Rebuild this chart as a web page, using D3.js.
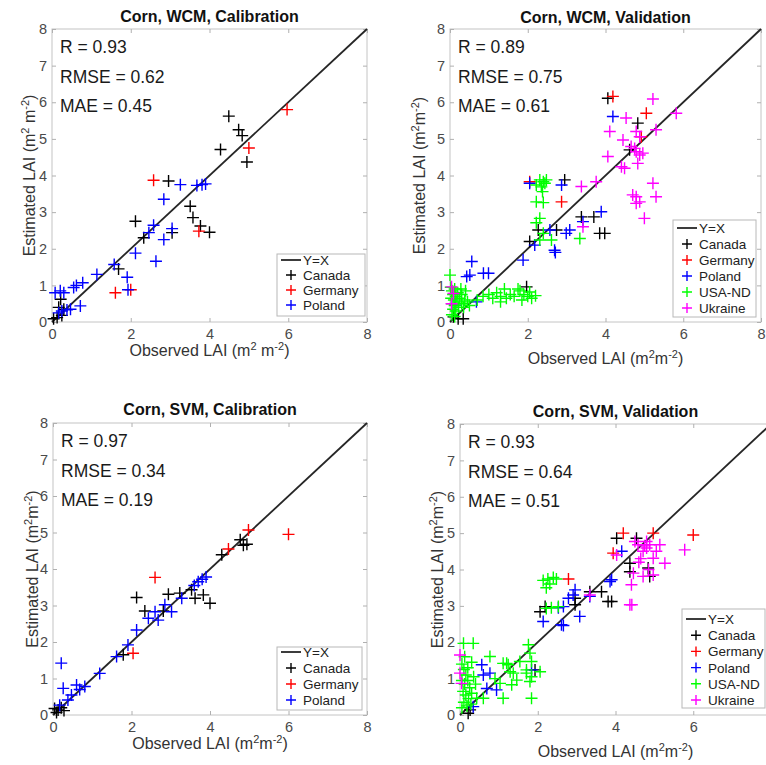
<!DOCTYPE html>
<html>
<head>
<meta charset="utf-8">
<script src="https://cdn.jsdelivr.net/npm/d3@7"></script>
<style>
  body { margin: 0; background: #fff; }
  svg { display: block; font-family: "Liberation Sans", Arial, sans-serif; }
</style>
</head>
<body>
<svg id="chart" width="766" height="765"></svg>
<script>

//----------------------------DATA (observed LAI, estimated LAI)--------------------------------

var countries = ['Canada', 'Germany', 'Poland', 'USA-ND', 'Ukraine'];
var xTicks = [0, 2, 4, 6, 8];
var yTicks = [0, 1, 2, 3, 4, 5, 6, 7, 8];
var identityLine = [0, 8];

var titles = ['Corn, WCM, Calibration', 'Corn, WCM, Validation', 'Corn, SVM, Calibration', 'Corn, SVM, Validation'];
var statR = ['0.93', '0.89', '0.97', '0.93'];
var statRMSE = ['0.62', '0.75', '0.34', '0.64'];
var statMAE = ['0.45', '0.61', '0.19', '0.51'];

// WCM calibration
var wcmCalCanada = [[0.04,0.09],[0.13,0.12],[0.25,0.18],[0.3,0.35],[0.22,0.62],[0.17,0.4],[1.69,1.45],[2.33,2.3],[2.12,2.75],[3.05,2.44],[2.96,3.85],[3.51,3.16],[3.58,2.85],[3.77,2.62],[4.0,2.45],[4.28,4.71],[4.49,5.62],[4.74,5.25],[4.83,5.09],[4.95,4.37]];
var wcmCalGermany = [[1.61,0.8],[2.0,0.88],[2.58,3.87],[3.73,2.48],[5.0,4.75],[5.97,5.8]];
var wcmCalPoland = [[0.08,0.8],[0.21,0.85],[0.3,0.8],[0.17,0.25],[0.25,0.3],[0.38,0.33],[0.47,0.35],[0.72,0.44],[0.55,0.94],[0.62,1.0],[0.78,1.07],[1.14,1.3],[1.58,1.57],[1.91,1.22],[1.93,0.88],[2.12,1.88],[2.64,1.66],[2.46,2.44],[2.58,2.64],[2.84,2.25],[3.05,2.55],[2.84,3.35],[3.26,3.75],[3.68,3.73],[3.81,3.75],[3.9,3.77]];

// WCM validation
var wcmValCanada = [[0.09,0.14],[0.21,0.09],[0.34,0.09],[1.97,0.96],[2.05,2.2],[2.27,2.51],[2.74,2.51],[2.95,3.88],[3.38,2.87],[3.7,2.87],[3.85,2.42],[3.98,2.42],[4.06,6.11],[4.62,4.7],[4.83,5.43]];
var wcmValGermany = [[2.05,3.83],[2.87,3.28],[4.19,6.16],[4.92,5.06],[5.05,5.7]];
var wcmValPoland = [[0.13,0.46],[0.68,0.55],[0.43,1.24],[0.51,1.28],[0.56,1.65],[0.86,1.33],[0.99,1.33],[1.88,1.69],[2.05,3.79],[2.18,2.1],[2.57,2.51],[2.69,1.96],[2.71,1.9],[2.87,3.74],[2.99,2.42],[3.08,2.51],[3.42,2.74],[3.89,3.01],[4.19,5.61]];
var wcmValUSA = [[0.0,1.28],[0.02,0.95],[0.05,0.85],[0.08,0.75],[0.12,0.9],[0.03,0.65],[0.1,0.6],[0.15,0.7],[0.2,0.8],[0.05,0.5],[0.12,0.45],[0.18,0.55],[0.25,0.65],[0.3,0.75],[0.08,0.35],[0.15,0.3],[0.22,0.4],[0.3,0.5],[0.38,0.6],[0.45,0.55],[0.05,0.2],[0.12,0.15],[0.35,0.4],[0.5,0.45],[0.28,0.9],[0.4,0.85],
  [0.7,0.6],[0.85,0.7],[1.0,0.75],[1.1,0.65],[1.2,0.8],[1.3,0.7],[1.3,0.55],[1.4,0.9],[1.45,0.65],[1.55,0.75],[1.65,0.7],[1.75,0.9],[1.8,0.85],[1.85,0.6],[1.9,0.75],[2.0,0.7],[2.05,0.82],[2.1,0.65],[2.2,0.72],
  [2.31,3.88],[2.4,3.83],[2.48,3.88],[2.22,3.74],[2.35,3.69],[2.44,3.79],[2.38,3.56],[2.22,3.28],[2.4,3.26],[2.22,2.71],[2.31,2.83],[2.4,2.42],[2.61,2.24],[2.31,2.24],[3.34,2.28]];
var wcmValUkraine = [[0.04,0.96],[0.09,0.78],[0.04,0.5],[3.38,3.7],[3.42,2.6],[3.76,3.83],[4.06,4.52],[4.11,5.2],[4.41,4.24],[4.49,4.2],[4.45,4.97],[4.53,5.57],[4.66,4.79],[4.75,4.74],[4.79,4.65],[4.88,4.56],[4.96,4.61],[4.79,5.2],[4.88,5.06],[4.83,4.33],[5.22,6.09],[5.3,5.25],[5.82,5.7],[5.22,3.79],[5.3,3.42],[4.7,3.47],[4.79,3.42],[4.79,3.24],[4.88,3.28],[5.0,2.83]];

// SVM calibration
var svmCalCanada = [[0.04,0.18],[0.13,0.14],[0.21,0.2],[0.09,0.07],[0.28,0.12],[1.79,1.65],[2.13,3.22],[2.34,2.85],[2.81,2.85],[2.94,3.31],[3.23,3.34],[3.53,3.43],[3.62,3.2],[3.83,3.29],[4.0,3.06],[4.3,4.39],[4.77,4.8],[4.94,4.68],[4.85,4.65]];
var svmCalGermany = [[2.04,1.69],[2.6,3.77],[4.47,4.55],[4.98,5.07],[6.0,4.95]];
var svmCalPoland = [[0.17,0.27],[0.38,0.41],[0.47,0.55],[0.6,0.82],[0.68,0.7],[0.81,0.78],[0.21,1.42],[0.26,0.73],[1.19,1.14],[1.62,1.6],[1.91,1.92],[2.13,2.33],[2.43,2.65],[2.6,2.83],[2.68,2.6],[2.85,3.02],[3.02,2.83],[3.28,3.2],[3.6,3.55],[3.7,3.65],[3.8,3.72],[3.9,3.78]];

// SVM validation
var svmValCanada = [[0.21,0.05],[0.26,0.14],[1.93,1.24],[2.06,2.84],[2.19,2.98],[2.96,3.03],[2.96,3.21],[3.34,3.39],[3.64,3.39],[3.81,3.12],[3.9,3.12],[4.03,4.86],[4.54,4.86],[4.37,4.17],[4.37,3.94],[4.84,4.04],[4.88,3.81]];
var svmValGermany = [[2.79,3.74],[3.94,4.45],[4.2,5.0],[4.97,5.0],[6.0,4.95]];
var svmValPoland = [[0.34,0.23],[0.56,1.38],[0.6,1.1],[0.77,1.15],[0.69,0.73],[0.94,0.69],[1.84,1.24],[2.14,2.57],[2.53,2.95],[2.66,2.98],[2.61,2.48],[2.66,2.46],[2.79,3.21],[2.91,3.3],[2.96,3.44],[3.08,2.71],[3.34,3.26],[3.86,3.67],[3.9,3.72],[4.16,4.5]];
var svmValUSA = [[0.09,1.97],[0.34,1.97],[0.05,1.4],[0.1,1.25],[0.15,1.1],[0.2,1.3],[0.05,0.95],[0.12,0.85],[0.2,0.95],[0.25,0.75],[0.08,0.65],[0.15,0.55],[0.22,0.45],[0.3,0.6],[0.1,0.35],[0.18,0.25],[0.28,0.3],[0.05,0.2],[0.35,1.05],[0.3,1.45],[0.43,0.46],[0.6,0.46],[0.4,0.85],[0.12,1.6],
  [0.77,1.61],[0.9,1.0],[1.03,0.87],[1.11,1.42],[1.11,0.46],[1.2,1.42],[1.24,1.38],[1.29,1.19],[1.33,0.83],[1.37,1.15],[1.46,0.96],[1.54,1.47],[1.71,1.15],[1.71,1.24],[1.76,1.93],[1.8,1.7],[1.8,0.92],[1.84,1.05],[1.84,1.47],[1.84,0.46],[2.06,1.19],
  [2.14,3.7],[2.26,3.74],[2.4,3.78],[2.48,3.74],[2.31,3.6],[2.22,3.5],[2.35,2.95],[2.53,2.98],[2.22,2.93]];
var svmValUkraine = [[0.0,1.65],[0.0,1.15],[0.04,0.87],[3.34,3.3],[4.03,4.4],[4.37,3.03],[4.42,3.03],[4.41,3.58],[4.46,3.9],[4.5,4.77],[4.58,4.68],[4.6,4.2],[4.65,4.3],[4.71,4.5],[4.71,3.81],[4.75,4.65],[4.8,4.59],[4.8,4.77],[4.85,4.0],[4.88,4.68],[4.97,4.31],[4.97,3.85],[5.05,4.5],[5.14,4.68],[5.27,4.17],[5.78,4.54]];

//----------------------------LAYOUT (pixel boxes of each axes)--------------------------------

var colors = ['#000000', '#ff0000', '#0000ff', '#00ff00', '#ff00ff'];
var W = 766;

var panels = [
  { series: [wcmCalCanada, wcmCalGermany, wcmCalPoland],
    box: [52, 29, 367, 322], titleY: 22, xlabY: 356, ylabX: 35, space: true,
    legend: { x: 277, y: 254, w: 88, h: 62, first: 6, step: 15 } },
  { series: [wcmValCanada, wcmValGermany, wcmValPoland, wcmValUSA, wcmValUkraine],
    box: [450, 29, 761, 322], titleY: 23, xlabY: 364, ylabX: 425, space: false,
    legend: { x: 673, y: 220, w: 83, h: 97, first: 8, step: 16 } },
  { series: [svmCalCanada, svmCalGermany, svmCalPoland],
    box: [53, 423, 367, 715], titleY: 415, xlabY: 749, ylabX: 38, space: false,
    legend: { x: 277, y: 647, w: 85, h: 63, first: 5, step: 16 } },
  { series: [svmValCanada, svmValGermany, svmValPoland, svmValUSA, svmValUkraine],
    box: [460, 424, 771, 715], titleY: 417, xlabY: 757, ylabX: 443, space: false,
    legend: { x: 682, y: 609, w: 83, h: 99, first: 10, step: 16.2 } }
];

var svg = d3.select('#chart');

panels.forEach(function (p, i) { drawPanel(p, i); });

//----------------------------DRAW ONE PANEL--------------------------------

function drawPanel(p, i) {
  var left = p.box[0], top = p.box[1], right = p.box[2], bottom = p.box[3];
  var x = d3.scaleLinear().domain([0, 8]).range([left, right]);
  var y = d3.scaleLinear().domain([0, 8]).range([bottom, top]);
  var g = svg.append('g');

  // axes box + inward ticks on all four sides (matlab "box on")
  g.append('rect')
    .attr('x', left).attr('y', top)
    .attr('width', right - left).attr('height', bottom - top)
    .attr('fill', 'none').attr('stroke', '#c4c4c4').attr('stroke-width', 1);

  var axes = [
    { ax: d3.axisBottom(x).tickValues(xTicks).tickPadding(7), t: 'translate(0,' + bottom + ')' },
    { ax: d3.axisTop(x).tickValues(xTicks).tickFormat(''), t: 'translate(0,' + top + ')' },
    { ax: d3.axisLeft(y).tickValues(yTicks).tickPadding(5), t: 'translate(' + left + ',0)' },
    { ax: d3.axisRight(y).tickValues(yTicks).tickFormat(''), t: 'translate(' + right + ',0)' }
  ];
  axes.forEach(function (a) {
    var ag = g.append('g').attr('transform', a.t).call(a.ax.tickSize(-4));
    ag.select('.domain').remove();
    ag.selectAll('line').attr('stroke', '#b0b0b0');
    ag.selectAll('text')
      .attr('font-family', '"Liberation Sans", Arial, sans-serif')
      .attr('font-size', 14.5).attr('fill', '#4a4a4a');
  });
  // labels that fall past the page edge are not drawn (panel 4 "8")
  g.selectAll('.tick').filter(function (d) { return x(d) > W && this.parentNode.getAttribute('transform').indexOf('translate(0,') === 0; })
    .select('text').remove();

  // Y=X line
  g.append('path')
    .datum(identityLine)
    .attr('d', d3.line().x(function (d) { return x(d); }).y(function (d) { return y(d); }))
    .attr('stroke', '#262626').attr('stroke-width', 1.8).attr('fill', 'none');

  // markers
  p.series.forEach(function (s, k) {
    g.append('g').selectAll('path')
      .data(s)
      .enter()
      .append('path')
      .attr('d', function (d) { return plus(x(d[0]), y(d[1]), 6); })
      .attr('stroke', colors[k]).attr('stroke-width', 1.4).attr('fill', 'none');
  });

  // title
  g.append('text')
    .attr('x', (left + right) / 2).attr('y', p.titleY)
    .attr('text-anchor', 'middle').attr('font-weight', 'bold')
    .attr('font-size', 16).attr('fill', '#111')
    .text(titles[i]);

  // stats
  var stats = ['R = ' + statR[i], 'RMSE = ' + statRMSE[i], 'MAE = ' + statMAE[i]];
  stats.forEach(function (s, k) {
    g.append('text')
      .attr('x', left + 8).attr('y', top + 24 + k * 29.5)
      .attr('font-size', 17.5).attr('fill', '#1a1a1a')
      .text(s);
  });

  // axis labels
  unitLabel(g.append('text')
    .attr('x', (left + right) / 2).attr('y', p.xlabY)
    .attr('text-anchor', 'middle'), 'Observed LAI (m', p.space);

  unitLabel(g.append('text')
    .attr('transform', 'translate(' + p.ylabX + ',' + (top + bottom) / 2 + ') rotate(-90)')
    .attr('text-anchor', 'middle'), 'Estimated LAI (m', p.space);

  // legend
  var L = p.legend;
  var lg = g.append('g');
  lg.append('rect')
    .attr('x', L.x).attr('y', L.y).attr('width', L.w).attr('height', L.h)
    .attr('fill', '#fff').attr('stroke', '#b8b8b8');
  var entries = ['Y=X'].concat(countries.slice(0, p.series.length));
  entries.forEach(function (name, k) {
    var cy = L.y + L.first + k * L.step;
    if (k === 0) {
      lg.append('line')
        .attr('x1', L.x + 4).attr('x2', L.x + 24).attr('y1', cy).attr('y2', cy)
        .attr('stroke', '#262626').attr('stroke-width', 1.8);
    } else {
      lg.append('path')
        .attr('d', plus(L.x + 14, cy, 5))
        .attr('stroke', colors[k - 1]).attr('stroke-width', 1.4).attr('fill', 'none');
    }
    lg.append('text')
      .attr('x', L.x + 26).attr('y', cy + 5)
      .attr('font-size', 13.5).attr('fill', '#222')
      .text(name);
  });
}

function plus(cx, cy, r) {
  return 'M' + (cx - r) + ',' + cy + 'h' + (2 * r) + 'M' + cx + ',' + (cy - r) + 'v' + (2 * r);
}

// "... (m² m⁻²)" with superscripts
function unitLabel(t, head, space) {
  t.attr('font-size', 16).attr('fill', '#333');
  t.append('tspan').text(head);
  t.append('tspan').attr('dy', -6).attr('font-size', 11).text('2');
  t.append('tspan').attr('dy', 6).text(space ? ' m' : 'm');
  t.append('tspan').attr('dy', -6).attr('font-size', 11).text('-2');
  t.append('tspan').attr('dy', 6).text(')');
}

</script>
</body>
</html>
